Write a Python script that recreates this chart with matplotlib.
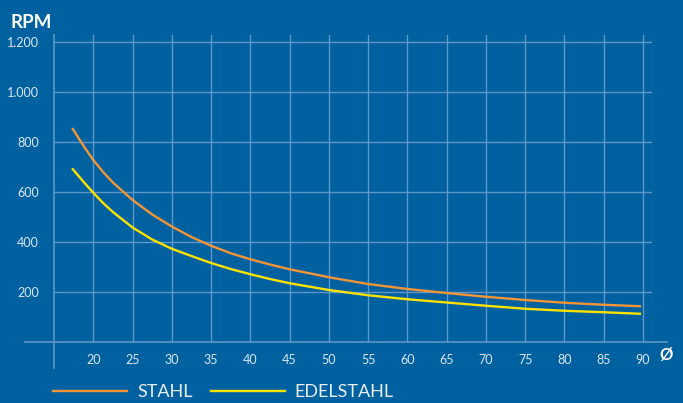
'''
RPM vs. diameter for steel and stainless steel
'''

import matplotlib.pyplot as plt

# data
DIAMETER = [17.4, 18.75, 20, 21.25, 22.5, 25, 27.5, 30, 32.5, 35, 37.5, 40, 42.5,
            45, 50, 55, 60, 65, 70, 75, 80, 85, 89.6]
STAHL = [852, 785, 728, 680, 638, 568, 510, 462, 420, 385, 355, 331, 310,
         291, 259, 232, 212, 196, 181, 168, 157, 149, 143]
EDELSTAHL = [691, 641, 597, 556, 520, 458, 410, 373, 344, 316, 292, 271, 252,
             235, 208, 187, 171, 158, 145, 133, 125, 119, 113]

X_TICKS = list(range(20, 95, 5))
Y_TICKS = [200, 400, 600, 800, 1000, 1200]
Y_LABELS = ["200", "400", "600", "800", "1.000", "1.200"]

BG = "#0061a1"
GRID = "#5f97c6"
TEXT = "#dbe6f1"
ORANGE = "#f29437"
YELLOW = "#ffe100"

plt.rcParams["font.family"] = ["Lato", "DejaVu Sans"]


def main():
    fig = plt.figure(figsize=(6.83, 4.03), dpi=100, facecolor=BG)
    # axes area: x 54..652 px, y 342..35 px (from top)
    ax = fig.add_axes([54 / 683, 1 - 342 / 403, (652 - 54) / 683, (342 - 35) / 403])
    ax.set_facecolor(BG)
    ax.set_xlim(15, 91.15)
    ax.set_ylim(0, 1228)

    for s in ax.spines.values():
        s.set_visible(False)

    # grid
    for x in X_TICKS:
        ax.axvline(x, color=GRID, lw=1, zorder=1)
    for y in Y_TICKS:
        ax.axhline(y, color=GRID, lw=1, zorder=1)

    # axis lines reaching beyond the plot area
    ax.axhline(0, xmin=-29 / 598, xmax=(667 - 54) / 598, color=GRID, lw=1.2,
               clip_on=False, zorder=1)
    ax.axvline(15, ymin=-26 / 307, ymax=1, color=GRID, lw=1.2,
               clip_on=False, zorder=1)

    ax.plot(DIAMETER, STAHL, color=ORANGE, lw=1.7, label="STAHL", zorder=3)
    ax.plot(DIAMETER, EDELSTAHL, color=YELLOW, lw=1.7, label="EDELSTAHL", zorder=3)

    ax.set_xticks(X_TICKS, labels=[str(x) for x in X_TICKS])
    ax.set_yticks(Y_TICKS, labels=Y_LABELS)
    ax.tick_params(length=0, colors=TEXT, labelsize=9)
    ax.tick_params(axis="x", pad=9)
    ax.tick_params(axis="y", pad=11)

    fig.text(10 / 683, 1 - 22 / 403, "RPM", color="white", fontsize=13.5,
             fontweight="bold", va="center", ha="left")
    fig.text(666 / 683, 1 - 355 / 403, "Ø", color="white", fontsize=12,
             fontweight="bold", va="center", ha="center")

    leg = ax.legend(loc="center left", bbox_to_anchor=(-1 / 598, -50 / 307), ncol=2,
                    frameon=False, handlelength=4.1, handletextpad=0.55,
                    columnspacing=1.0, borderaxespad=0, borderpad=0,
                    prop={"size": 13})
    for t in leg.get_texts():
        t.set_color("#e8eff7")

    fig.savefig("out.png", dpi=100, facecolor=BG)


if __name__ == "__main__":
    main()
